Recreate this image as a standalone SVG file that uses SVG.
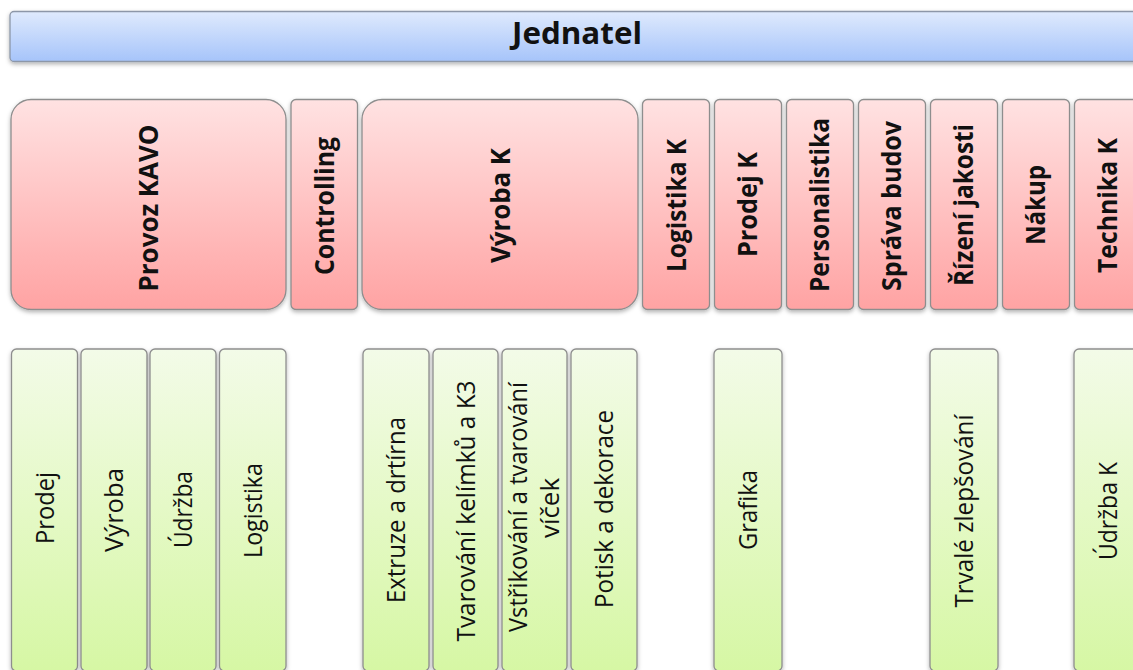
<svg xmlns="http://www.w3.org/2000/svg" width="1133" height="670" viewBox="0 0 1133 670">
  <defs>
    <linearGradient id="gBlue" x1="0" y1="0" x2="0" y2="1">
      <stop offset="0" stop-color="#dfeafd"/>
      <stop offset="1" stop-color="#a6c4fa"/>
    </linearGradient>
    <linearGradient id="gRed" x1="0" y1="0" x2="0" y2="1">
      <stop offset="0" stop-color="#ffe2e2"/>
      <stop offset="1" stop-color="#ffa3a3"/>
    </linearGradient>
    <linearGradient id="gGreen" x1="0" y1="0" x2="0" y2="1">
      <stop offset="0" stop-color="#f3fbe8"/>
      <stop offset="1" stop-color="#d6f7a4"/>
    </linearGradient>
    <filter id="shadow" x="-20%" y="-20%" width="140%" height="140%">
      <feDropShadow dx="0" dy="2" stdDeviation="2" flood-color="#000" flood-opacity="0.3"/>
    </filter>
  </defs>
  <style>
    .top { fill: url(#gBlue); stroke: #8d97a8; stroke-width: 1.3; filter: url(#shadow); }
    .dept { fill: url(#gRed); stroke: #8e8e8e; stroke-width: 1.3; filter: url(#shadow); }
    .unit { fill: url(#gGreen); stroke: #8e8e8e; stroke-width: 1.3; filter: url(#shadow); }
    .bold { font-family: "Open Sans", "Noto Sans", sans-serif; font-weight: 700; font-size: 27px; fill: #111; }
    .title { font-size: 30px; }
    .reg { font-family: "Open Sans", "Noto Sans", sans-serif; font-weight: 400; font-size: 26px; fill: #111; }
  </style>
  <rect width="1133" height="670" fill="#ffffff"/>

  <!-- head -->
  <g id="jednatel">
    <rect class="top" x="10" y="11.5" width="1140" height="50" rx="4"/>
    <text class="bold title" x="577" y="44" text-anchor="middle" textLength="130" lengthAdjust="spacingAndGlyphs">Jednatel</text>
  </g>

  <!-- departments -->
  <g id="provoz-kavo">
    <rect class="dept" x="11" y="99.5" width="275" height="210" rx="20"/>
    <text class="bold" transform="translate(158,208) rotate(-90)" text-anchor="middle" textLength="167" lengthAdjust="spacingAndGlyphs">Provoz KAVO</text>
  </g>
  <g id="controlling">
    <rect class="dept" x="291" y="99.5" width="66.5" height="210" rx="5"/>
    <text class="bold" transform="translate(334,206) rotate(-90)" text-anchor="middle" textLength="138" lengthAdjust="spacingAndGlyphs">Controlling</text>
  </g>
  <g id="vyroba-k">
    <rect class="dept" x="362" y="99.5" width="276" height="210" rx="20"/>
    <text class="bold" transform="translate(510,205.5) rotate(-90)" text-anchor="middle" textLength="115" lengthAdjust="spacingAndGlyphs">Výroba K</text>
  </g>
  <g id="logistika-k">
    <rect class="dept" x="642.5" y="99.5" width="67" height="210" rx="5"/>
    <text class="bold" transform="translate(686,205.5) rotate(-90)" text-anchor="middle" textLength="133" lengthAdjust="spacingAndGlyphs">Logistika K</text>
  </g>
  <g id="prodej-k">
    <rect class="dept" x="714.5" y="99.5" width="67" height="210" rx="5"/>
    <text class="bold" transform="translate(757,204.5) rotate(-90)" text-anchor="middle" textLength="105" lengthAdjust="spacingAndGlyphs">Prodej K</text>
  </g>
  <g id="personalistika">
    <rect class="dept" x="786.5" y="99.5" width="67" height="210" rx="5"/>
    <text class="bold" transform="translate(829,205) rotate(-90)" text-anchor="middle" textLength="174" lengthAdjust="spacingAndGlyphs">Personalistika</text>
  </g>
  <g id="sprava-budov">
    <rect class="dept" x="858.5" y="99.5" width="67" height="210" rx="5"/>
    <text class="bold" transform="translate(901,206) rotate(-90)" text-anchor="middle" textLength="170" lengthAdjust="spacingAndGlyphs">Správa budov</text>
  </g>
  <g id="rizeni-jakosti">
    <rect class="dept" x="930.5" y="99.5" width="67" height="210" rx="5"/>
    <text class="bold" transform="translate(973,205) rotate(-90)" text-anchor="middle" textLength="162" lengthAdjust="spacingAndGlyphs">Řízení jakosti</text>
  </g>
  <g id="nakup">
    <rect class="dept" x="1002.5" y="99.5" width="67" height="210" rx="5"/>
    <text class="bold" transform="translate(1045,205) rotate(-90)" text-anchor="middle" textLength="80" lengthAdjust="spacingAndGlyphs">Nákup</text>
  </g>
  <g id="technika-k">
    <rect class="dept" x="1074.5" y="99.5" width="67" height="210" rx="5"/>
    <text class="bold" transform="translate(1117,205.5) rotate(-90)" text-anchor="middle" textLength="135" lengthAdjust="spacingAndGlyphs">Technika K</text>
  </g>

  <!-- units -->
  <g id="prodej">
    <rect class="unit" x="11.5" y="349" width="66" height="322" rx="5"/>
    <text class="reg" transform="translate(53.5,508) rotate(-90)" text-anchor="middle" textLength="72" lengthAdjust="spacingAndGlyphs">Prodej</text>
  </g>
  <g id="vyroba">
    <rect class="unit" x="81" y="349" width="66" height="322" rx="5"/>
    <text class="reg" transform="translate(122.5,510) rotate(-90)" text-anchor="middle" textLength="84" lengthAdjust="spacingAndGlyphs">Výroba</text>
  </g>
  <g id="udrzba">
    <rect class="unit" x="150" y="349" width="66" height="322" rx="5"/>
    <text class="reg" transform="translate(192,509.5) rotate(-90)" text-anchor="middle" textLength="77" lengthAdjust="spacingAndGlyphs">Údržba</text>
  </g>
  <g id="logistika">
    <rect class="unit" x="219.5" y="349" width="66.5" height="322" rx="5"/>
    <text class="reg" transform="translate(261.5,510.5) rotate(-90)" text-anchor="middle" textLength="95" lengthAdjust="spacingAndGlyphs">Logistika</text>
  </g>
  <g id="extruze">
    <rect class="unit" x="363" y="349" width="66" height="322" rx="5"/>
    <text class="reg" transform="translate(405,510) rotate(-90)" text-anchor="middle" textLength="186" lengthAdjust="spacingAndGlyphs">Extruze a drtírna</text>
  </g>
  <g id="tvarovani">
    <rect class="unit" x="433" y="349" width="65" height="322" rx="5"/>
    <text class="reg" transform="translate(474.5,511) rotate(-90)" text-anchor="middle" textLength="261" lengthAdjust="spacingAndGlyphs">Tvarování kelímků a K3</text>
  </g>
  <g id="vstrikovani">
    <rect class="unit" x="502" y="349" width="65" height="322" rx="5"/>
    <text class="reg" transform="translate(527,507) rotate(-90)" text-anchor="middle" textLength="250" lengthAdjust="spacingAndGlyphs">Vstřikování a tvarování</text>
    <text class="reg" transform="translate(558.5,508) rotate(-90)" text-anchor="middle" textLength="60" lengthAdjust="spacingAndGlyphs">víček</text>
  </g>
  <g id="potisk">
    <rect class="unit" x="571" y="349" width="66" height="322" rx="5"/>
    <text class="reg" transform="translate(613,509) rotate(-90)" text-anchor="middle" textLength="198" lengthAdjust="spacingAndGlyphs">Potisk a dekorace</text>
  </g>
  <g id="grafika">
    <rect class="unit" x="714" y="349" width="68" height="322" rx="5"/>
    <text class="reg" transform="translate(757,510) rotate(-90)" text-anchor="middle" textLength="80" lengthAdjust="spacingAndGlyphs">Grafika</text>
  </g>
  <g id="trvale-zlepsovani">
    <rect class="unit" x="930" y="349" width="68" height="322" rx="5"/>
    <text class="reg" transform="translate(973,511) rotate(-90)" text-anchor="middle" textLength="193" lengthAdjust="spacingAndGlyphs">Trvalé zlepšování</text>
  </g>
  <g id="udrzba-k">
    <rect class="unit" x="1074" y="349" width="68" height="322" rx="5"/>
    <text class="reg" transform="translate(1116.5,511) rotate(-90)" text-anchor="middle" textLength="98" lengthAdjust="spacingAndGlyphs">Údržba K</text>
  </g>

  <!-- no connectors are drawn between the levels -->
  <g id="connectors"/>
</svg>
